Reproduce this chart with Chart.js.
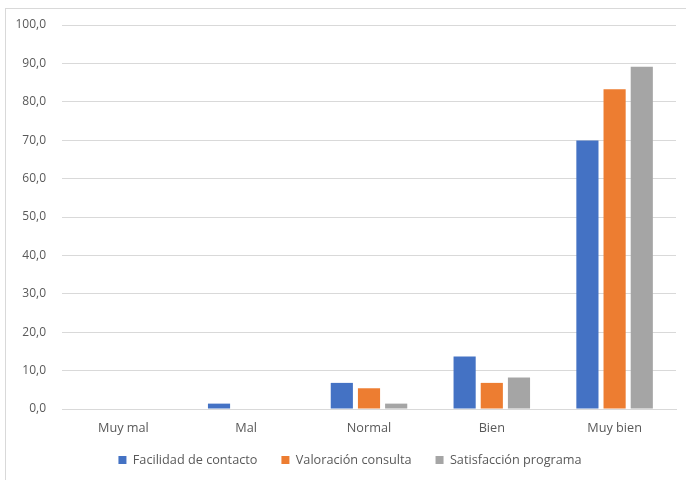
<!DOCTYPE html>
<html lang="es">
<head>
<meta charset="utf-8">
<title>Valoración del programa</title>
<script src="https://cdn.jsdelivr.net/npm/chart.js@4"></script>
<style>
    html, body { margin: 0; padding: 0; background: #fff; }
    #wrap { position: relative; width: 686px; height: 480px; overflow: hidden; }
    #frame {
        position: absolute; left: 5px; top: 8px; width: 720px; height: 520px;
        border-left: 1px solid #d9d9d9; border-top: 1px solid #d9d9d9;
    }
    canvas { position: absolute; left: 0; top: 0; }
</style>
</head>
<body>
<div id="wrap">
    <div id="frame"></div>
    <canvas id="barChart" width="686" height="480"></canvas>
</div>
<script>
const categorias = ['Muy mal', 'Mal', 'Normal', 'Bien', 'Muy bien'];
const facilidadContacto = [0, 1.4, 6.8, 13.7, 69.9];
const valoracionConsulta = [0, 0, 5.4, 6.8, 83.3];
const satisfaccionPrograma = [0, 0, 1.4, 8.2, 89.1];

const textColor = '#595959';
const gridColor = '#d9d9d9';
const fontFamily = "'Open Sans', 'Liberation Sans', sans-serif";

// Formato con coma decimal: 10 -> "10,0"
function formatTick(value) {
    return value.toFixed(1).replace('.', ',');
}

function makeDataset(label, data, color) {
    return {
        label: label,
        data: data,
        backgroundColor: color,
        borderWidth: 0,
        categoryPercentage: 0.664,
        barPercentage: 0.815,
    };
}

// Recoloca la leyenda: más cerca del eje X y centrada sin el relleno final
const legendShift = {
    id: 'legendShift',
    afterLayout(chart) {
        const legend = chart.legend;
        if (!legend) return;
        legend.top -= 6.4;
        legend.bottom -= 6.4;
        legend.left += 12;
        legend.right += 12;
    },
};

const ctx = document.getElementById('barChart').getContext('2d');
const chart = new Chart(ctx, {
    type: 'bar',
    data: {
        labels: categorias,
        datasets: [
            makeDataset('Facilidad de contacto', facilidadContacto, '#4472c4'),
            makeDataset('Valoración consulta', valoracionConsulta, '#ed7d31'),
            makeDataset('Satisfacción programa', satisfaccionPrograma, '#a5a5a5'),
        ],
    },
    plugins: [legendShift],
    options: {
        responsive: false,
        animation: false,
        layout: {
            padding: { left: 0, right: 10, top: 25, bottom: -2.7 },
        },
        plugins: {
            tooltip: { enabled: false },
            legend: {
                position: 'bottom',
                labels: {
                    color: textColor,
                    font: { family: fontFamily, size: 12.7 },
                    boxWidth: 8,
                    boxHeight: 8,
                    padding: 24,
                },
            },
        },
        scales: {
            x: {
                grid: { display: false, drawTicks: false },
                border: { display: true, color: gridColor },
                ticks: {
                    color: textColor,
                    font: { family: fontFamily, size: 12.7 },
                    padding: 11.4,
                },
                afterFit: (scale) => { scale.height = 27; },
            },
            y: {
                min: 0,
                max: 100,
                grid: { color: gridColor, drawTicks: false },
                border: { display: false },
                ticks: {
                    stepSize: 10,
                    color: textColor,
                    font: { family: fontFamily, size: 12 },
                    padding: 16,
                    callback: (value) => formatTick(value),
                },
                afterFit: (scale) => { scale.width = 62; },
            },
        },
    },
});
</script>
</body>
</html>
